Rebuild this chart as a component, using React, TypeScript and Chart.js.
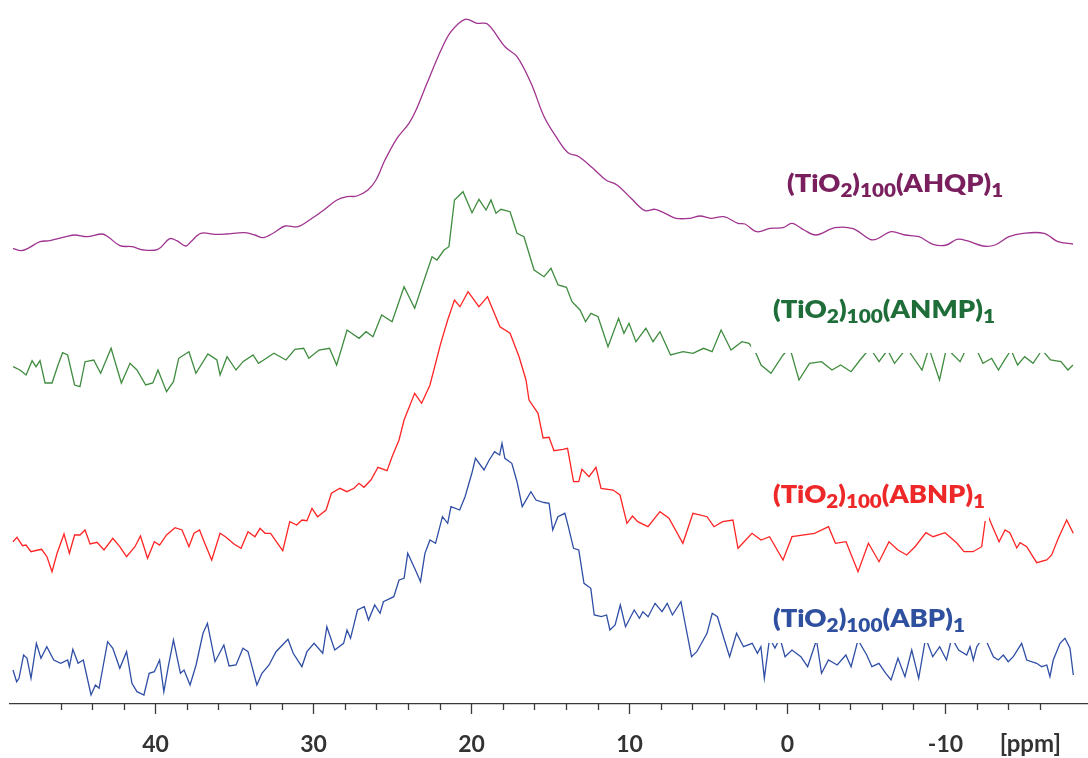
import React, { useEffect, useRef } from "react";
import { Chart, registerables } from "chart.js";

Chart.register(...registerables);

// ---------- data (chemical shift in ppm, stacked intensity in arbitrary units) ----------
const AHQP_PPM = [49.01, 48.50, 48.06, 47.30, 46.67, 45.66, 45.09, 44.33, 43.38, 43.00, 42.24, 41.48, 40.72, 39.84, 39.08, 38.64, 38.07, 37.75, 37.12, 36.23, 35.53, 34.33, 33.69, 33.19, 32.49, 31.79, 30.97, 30.08, 29.33, 28.50, 27.87, 27.24, 26.54, 26.03, 25.46, 24.70, 23.94, 23.49, 22.80, 21.91, 21.28, 20.39, 19.63, 18.97, 17.86, 17.10, 16.21, 15.39, 14.63, 13.87, 13.18, 12.29, 11.47, 10.77, 9.88, 9.00, 8.36, 7.73, 7.03, 6.15, 5.51, 4.82, 4.00, 3.11, 2.67, 1.91, 1.08, 0.26, -0.31, -1.07, -1.83, -3.03, -4.17, -5.25, -5.69, -6.58, -7.46, -8.35, -9.24, -10.09, -10.76, -11.39, -12.40, -13.16, -14.05, -14.94, -16.27, -17.15, -18.10];
const AHQP_INT = [455.7, 453.3, 455.7, 462.3, 463.3, 467.3, 469, 467.3, 470, 467.3, 458.3, 457.3, 454, 454.7, 465.3, 463.3, 458, 462.3, 470.7, 469.7, 470, 471.3, 469, 466.3, 471.3, 478, 477.3, 485.7, 494, 504, 507.3, 508, 514, 524, 544, 565.7, 580.7, 594, 620.7, 654, 672.3, 684.7, 680.7, 680, 657.3, 647.3, 620.7, 587.5, 567.3, 551.3, 547.3, 535.7, 524, 519, 505.7, 493.3, 494.7, 490.7, 485.7, 485.7, 488, 485.7, 487.3, 480.7, 480, 472.3, 475.7, 476.3, 480.7, 474, 469, 476.3, 475.3, 464.7, 465, 472.3, 469, 467.3, 459.7, 459, 464.7, 463.3, 458, 459, 467.3, 470.7, 470.7, 462.3, 460];

const ANMP_PPM = [49.01, 48.57, 48.18, 47.80, 47.55, 47.30, 46.98, 46.54, 46.16, 45.87, 45.55, 45.11, 44.77, 44.45, 43.90, 43.46, 42.80, 42.15, 41.60, 41.16, 40.61, 40.16, 39.83, 39.29, 38.85, 38.52, 37.87, 37.43, 36.67, 36.10, 35.90, 35.46, 34.89, 34.45, 33.81, 33.47, 33.14, 32.49, 31.73, 31.16, 30.61, 30.28, 29.64, 28.97, 28.52, 27.86, 27.10, 26.66, 26.22, 25.67, 25.01, 24.25, 23.58, 23.05, 22.48, 22.17, 21.72, 21.41, 21.06, 20.52, 19.95, 19.51, 19.06, 18.75, 18.43, 18.12, 17.54, 17.10, 16.66, 16.02, 15.39, 14.95, 14.50, 13.97, 13.62, 13.11, 12.76, 12.42, 11.97, 11.34, 10.67, 10.33, 10.01, 9.57, 8.94, 8.49, 8.05, 7.38, 6.59, 5.96, 5.29, 4.75, 4.18, 3.55, 2.86, 2.41, 1.97, 1.65, 1.02, 0.26, -0.18, -0.75, -1.42, -2.18, -2.84, -3.39, -4.05, -4.62, -5.25, -5.82, -6.36, -6.80, -7.57, -8.54, -8.98, -9.65, -10.09, -10.95, -11.30, -12.07, -12.40, -12.95, -13.38, -13.83, -14.18, -14.59, -15.04, -15.57, -16.14, -16.68, -17.34, -17.78, -18.10];
const ANMP_INT = [337.3, 334, 329, 343.3, 337.3, 343.3, 321, 321, 339, 351.3, 349, 319, 317.3, 342.3, 344, 330.7, 355.7, 321, 340.7, 334, 319, 321, 334, 312.3, 322.3, 345.7, 352.3, 330.7, 350, 344, 329, 347.3, 334, 342.3, 349, 340.7, 344, 350.7, 344, 354.7, 355.7, 345.7, 354, 355.7, 339, 374, 365.7, 372.3, 367.3, 389, 382.3, 417.3, 395.7, 420.7, 447.3, 444, 454, 457.3, 504, 512.3, 491.3, 504.7, 494, 504, 490.7, 494.7, 492.3, 470.7, 467.3, 434, 427.3, 435.7, 419, 416.7, 402.3, 394, 382.3, 390.7, 387.3, 357.3, 385.7, 370.7, 380.7, 362.3, 375.7, 362.3, 372.3, 349, 352.3, 350.7, 355.7, 352.3, 374, 354, 362.3, 360.7, 350.7, 339, 330.7, 349, 356, 324, 340.7, 342.3, 334, 339, 332.3, 344, 356, 342.3, 354, 340.7, 356, 334, 356, 324, 356, 342.3, 354, 352, 340.7, 345.7, 334, 345.7, 354, 339, 347.3, 340.7, 354, 344, 342.3, 334, 339];

const ABNP_PPM = [49.01, 48.76, 48.41, 48.19, 47.87, 47.43, 47.20, 46.86, 46.54, 46.22, 45.78, 45.44, 45.11, 44.77, 44.45, 44.13, 43.69, 43.25, 42.69, 42.25, 41.82, 41.29, 40.94, 40.49, 40.06, 39.73, 39.29, 38.75, 38.31, 37.87, 37.55, 37.20, 36.87, 36.43, 35.90, 35.56, 35.02, 34.57, 34.13, 33.69, 33.37, 33.05, 32.70, 32.26, 31.93, 31.49, 31.05, 30.71, 30.40, 30.08, 29.73, 29.19, 28.85, 28.31, 27.87, 27.42, 27.11, 26.79, 26.35, 25.90, 25.33, 25.01, 24.57, 24.25, 23.58, 23.14, 22.61, 21.93, 21.49, 21.06, 20.71, 20.20, 19.51, 18.97, 18.18, 17.54, 16.97, 16.53, 16.34, 15.77, 15.45, 15.07, 14.76, 14.19, 13.90, 13.52, 13.19, 12.99, 12.54, 12.10, 11.78, 11.02, 10.58, 10.14, 9.79, 9.46, 8.81, 8.05, 7.48, 6.60, 5.96, 5.07, 4.63, 4.08, 3.43, 3.11, 2.22, 1.65, 1.11, 0.26, -0.31, -1.74, -2.62, -3.06, -3.73, -4.49, -5.15, -5.82, -6.45, -7.02, -7.57, -8.10, -8.79, -9.24, -10.00, -10.76, -11.20, -11.77, -12.32, -12.62, -13.04, -13.42, -13.80, -14.11, -14.54, -14.75, -15.17, -15.80, -16.44, -16.75, -17.17, -17.70, -18.12];
const ABNP_INT = [162.3, 166.7, 158.3, 159, 152.3, 154, 154.7, 147.3, 132.3, 150.7, 170, 150.7, 169, 169, 174, 160, 161.7, 154, 165.7, 157.3, 147.3, 157.3, 168, 145.7, 162.3, 159, 169, 176.3, 174, 157.3, 170.7, 174, 160.7, 144, 170.7, 167.3, 160, 155.7, 172.3, 167.3, 175.7, 170.7, 170.7, 160.7, 153.3, 182.3, 179, 184, 183.3, 195.7, 187.3, 194, 210.7, 215.7, 212.3, 215.7, 220.7, 216.7, 224, 236.7, 233.3, 247.3, 264, 284, 310.7, 300.7, 319, 360.7, 384, 404, 397.3, 412.3, 397.3, 407.3, 377.3, 370.7, 347.3, 324, 304, 290.7, 266, 266.7, 253.3, 254.7, 255.7, 222.3, 222.3, 234.7, 227.3, 236.7, 215.7, 214, 209, 180.7, 188, 182.3, 177.3, 192.3, 185.7, 160.7, 190.7, 187.3, 177.3, 182.3, 184, 155.7, 170.7, 164, 167.3, 144, 167.3, 170.7, 177.3, 160.7, 162.3, 132.3, 160.7, 142.3, 162.3, 154, 149, 157.3, 171.3, 167.3, 171.3, 160.7, 152.3, 152.3, 157.3, 192, 176, 162.3, 174, 171, 156, 161.3, 157.3, 141.3, 144, 149, 165.7, 184, 170.7];

const ABP_PPM = [49.01, 48.78, 48.63, 48.34, 48.12, 47.87, 47.53, 47.24, 46.87, 46.43, 45.99, 45.55, 45.44, 45.22, 44.89, 44.56, 44.07, 43.79, 43.56, 43.02, 42.69, 42.25, 41.82, 41.48, 41.16, 40.72, 40.39, 40.06, 39.73, 39.46, 39.18, 38.85, 38.41, 38.18, 37.80, 37.42, 36.98, 36.70, 36.22, 35.66, 35.33, 34.89, 34.45, 34.13, 33.57, 33.25, 32.80, 32.36, 31.60, 31.27, 30.72, 30.40, 29.95, 29.40, 29.14, 28.64, 28.08, 27.86, 27.64, 27.20, 26.77, 26.50, 26.11, 25.77, 25.56, 24.90, 24.57, 24.25, 24.02, 23.58, 23.21, 22.93, 22.61, 22.26, 21.82, 21.49, 21.28, 20.73, 20.39, 19.96, 19.73, 19.19, 18.86, 18.52, 18.20, 18.05, 17.87, 17.43, 17.10, 16.77, 16.22, 15.90, 15.39, 15.07, 14.84, 14.51, 14.07, 13.85, 13.52, 13.19, 12.86, 12.43, 12.21, 11.76, 11.43, 11.22, 10.89, 10.56, 10.23, 9.68, 9.35, 9.13, 8.80, 8.36, 7.92, 7.59, 7.26, 6.72, 6.50, 6.05, 5.72, 5.07, 4.74, 4.41, 3.97, 3.64, 3.20, 2.76, 2.21, 1.88, 1.66, 1.44, 1.11, 0.77, 0.45, 0.13, -0.31, -0.87, -1.30, -1.86, -2.18, -2.62, -3.17, -3.72, -4.05, -4.49, -5.04, -5.37, -5.81, -6.25, -6.58, -7.02, -7.46, -7.89, -8.33, -8.77, -9.22, -9.66, -10.09, -10.42, -10.86, -11.37, -11.58, -11.79, -12.01, -12.47, -13.06, -13.37, -13.69, -14.00, -14.32, -14.85, -15.17, -15.80, -16.12, -16.44, -16.64, -16.85, -17.28, -17.59, -17.91, -18.12];
const ABP_INT = [34, 22.3, 25.7, 49, 45.7, 25.7, 60.7, 45.7, 57.3, 44, 40.7, 44, 37.3, 54.7, 40.7, 44, 9, 19, 15.7, 62.3, 55.7, 35.7, 52.3, 20.7, 12.3, 9, 30.7, 32.3, 44, 12.3, 37.3, 64, 30.7, 34, 19, 39, 70.7, 80.7, 42.3, 59, 38, 39, 55.7, 52.3, 19, 30.7, 39, 52.3, 64.7, 50.7, 37.3, 52.3, 60.7, 50.7, 77.3, 54, 60.7, 74, 65.7, 94, 97.3, 84, 99, 90.7, 102.3, 107.3, 124, 125.7, 150.7, 135.7, 122.3, 150.7, 164, 160.7, 187.3, 180.7, 197.3, 194, 207.3, 230.7, 245.7, 234, 244, 252.3, 249, 260.7, 245.7, 240.7, 222.3, 197.3, 212.3, 204, 201.5, 200.7, 174, 187.3, 190.7, 177.3, 155.7, 154, 120.7, 115.7, 89, 87.3, 89, 74, 79, 99, 77.3, 94, 85.7, 92.3, 87.3, 100.7, 92.3, 100.7, 89, 102.3, 84, 47.3, 52.3, 70.7, 90.7, 87.3, 64, 47.3, 70.7, 57.3, 60.7, 50.7, 57.3, 25.7, 66, 56, 66, 47.3, 54, 47.3, 37.3, 64, 30.7, 44, 39, 49, 37.3, 64, 49, 37.3, 40.7, 30.7, 24, 45.7, 27.3, 54, 25.7, 66, 47.3, 57.3, 44, 66, 54, 49, 57.3, 44, 57.3, 68, 47.3, 44, 49, 42.3, 47.3, 60.7, 44, 40.7, 37.3, 39, 27.3, 44, 60.7, 65.7, 55.7, 29];

const SERIES_NAMES = ["AHQP", "ANMP", "ABNP", "ABP"];
const LINE_COLORS = ["#a0338f", "#3f8c3f", "#ff2424", "#2f4ea5"];
const TEXT_COLORS = ["#7a1f5e", "#1f6e3a", "#ee2828", "#2f4f9f"];
const LINE_TENSION = [0.35, 0, 0, 0];

// axis
const X_MIN = -19.05;
const X_MAX = 49.2;
const MINOR_STEP = 2;
const MAJOR_STEP = 10;
const Y_MIN = 0;
const Y_MAX = 704;
const UNIT_LABEL = "[ppm]";
const UNIT_LABEL_PPM = -15.4;

// label anchors in data units (left ppm, right ppm, baseline intensity)
const LABEL_LEFT = [0.0, 0.89, 0.89, 0.89];
const LABEL_RIGHT = [-13.68, -13.16, -12.53, -11.26];
const LABEL_BASE = [512, 385.7, 200.7, 77.3];

// white label backgrounds (ppm left, ppm right, intensity top, intensity bottom)
const MASK_LEFT = [2.28, 1.12, 1.2];
const MASK_RIGHT = [-19.05, -12.78, -12.78];
const MASK_TOP = [414, 234, 104];
const MASK_BOTTOM = [351, 183, 61];

const FONT = "Lato, 'Open Sans', 'DejaVu Sans', sans-serif";

function drawRich(ctx: CanvasRenderingContext2D, name: string, x: number, baseline: number, targetW: number, size: number, color: string) {
  const parts = [
    { t: "(TiO", sub: false },
    { t: "2", sub: true },
    { t: ")", sub: false },
    { t: "100", sub: true },
    { t: "(" + name + ")", sub: false },
    { t: "1", sub: true },
  ];
  const main = `800 ${size}px ${FONT}`;
  const sub = `800 ${Math.round(size * 0.74)}px ${FONT}`;
  let w = 0;
  for (const p of parts) {
    ctx.font = p.sub ? sub : main;
    w += ctx.measureText(p.t).width;
  }
  const sx = targetW / w;
  ctx.save();
  ctx.translate(x, baseline);
  ctx.scale(sx, 1);
  ctx.fillStyle = color;
  ctx.textAlign = "left";
  ctx.textBaseline = "alphabetic";
  let cx = 0;
  for (const p of parts) {
    ctx.font = p.sub ? sub : main;
    ctx.fillText(p.t, cx, p.sub ? size * 0.2 : 0);
    cx += ctx.measureText(p.t).width;
  }
  ctx.restore();
}

const overlayPlugin = {
  id: "overlay",
  afterDatasetsDraw(chart: any) {
    const { ctx, scales } = chart;
    const xs = scales.x;
    const ys = scales.y;
    ctx.save();
    ctx.fillStyle = "#ffffff";
    for (let i = 0; i < MASK_LEFT.length; i++) {
      const l = xs.getPixelForValue(MASK_LEFT[i]);
      const r = xs.getPixelForValue(MASK_RIGHT[i]);
      const t = ys.getPixelForValue(MASK_TOP[i]);
      const b = ys.getPixelForValue(MASK_BOTTOM[i]);
      ctx.fillRect(l, t, r - l, b - t);
    }
    for (let i = 0; i < SERIES_NAMES.length; i++) {
      const l = xs.getPixelForValue(LABEL_LEFT[i]);
      const r = xs.getPixelForValue(LABEL_RIGHT[i]);
      const b = ys.getPixelForValue(LABEL_BASE[i]);
      drawRich(ctx, SERIES_NAMES[i], l, b, r - l, 25, TEXT_COLORS[i]);
    }
    ctx.restore();
  },
  afterDraw(chart: any) {
    const { ctx } = chart;
    const xs = chart.scales.x;
    const y0 = xs.top;
    ctx.save();
    ctx.strokeStyle = "#3a3a3a";
    ctx.lineWidth = 1.3;
    ctx.fillStyle = "#333333";
    ctx.font = `bold 23px ${FONT}`;
    ctx.textAlign = "center";
    ctx.textBaseline = "alphabetic";
    for (const t of xs.ticks) {
      const v = t.value;
      const isMajor = Math.abs(v / MAJOR_STEP - Math.round(v / MAJOR_STEP)) < 1e-6;
      const px = Math.round(xs.getPixelForValue(v)) + 0.5;
      ctx.beginPath();
      ctx.moveTo(px, y0);
      ctx.lineTo(px, y0 + (isMajor ? 10 : 6));
      ctx.stroke();
      if (isMajor) ctx.fillText(String(Math.round(v)), px, y0 + 48);
    }
    ctx.font = `bold 24px ${FONT}`;
    ctx.fillText(UNIT_LABEL, xs.getPixelForValue(UNIT_LABEL_PPM), y0 + 48);
    ctx.restore();
  },
};

function toPoints(xs: number[], ys: number[]) {
  const n = Math.min(xs.length, ys.length);
  const out: { x: number; y: number }[] = [];
  for (let i = 0; i < n; i++) out.push({ x: xs[i], y: ys[i] });
  return out;
}

export default function App() {
  const ref = useRef<HTMLCanvasElement>(null);
  useEffect(() => {
    if (!ref.current) return;
    const seriesData = [
      toPoints(AHQP_PPM, AHQP_INT),
      toPoints(ANMP_PPM, ANMP_INT),
      toPoints(ABNP_PPM, ABNP_INT),
      toPoints(ABP_PPM, ABP_INT),
    ];
    const chart = new Chart(ref.current, {
      type: "line",
      data: {
        datasets: seriesData.map((d, i) => ({
          label: SERIES_NAMES[i],
          data: d,
          borderColor: LINE_COLORS[i],
          borderWidth: 1.3,
          pointRadius: 0,
          tension: LINE_TENSION[i],
          fill: false,
        })),
      },
      options: {
        animation: false,
        responsive: false,
        devicePixelRatio: 1,
        layout: { padding: { left: 10, right: 0, top: 0, bottom: 0 } },
        plugins: { legend: { display: false }, tooltip: { enabled: false } },
        scales: {
          x: {
            type: "linear",
            reverse: true,
            min: X_MIN,
            max: X_MAX,
            ticks: { display: false, stepSize: MINOR_STEP },
            grid: { display: false, drawTicks: false },
            border: { display: true, color: "#3a3a3a", width: 1.3 },
            afterBuildTicks: (s: any) => {
              s.ticks = s.ticks.filter((t: any) => Math.abs(t.value / MINOR_STEP - Math.round(t.value / MINOR_STEP)) < 1e-6);
            },
            afterFit: (s: any) => {
              s.height = 54;
            },
          },
          y: { display: false, min: Y_MIN, max: Y_MAX },
        },
      },
      plugins: [overlayPlugin],
    } as any);
    return () => chart.destroy();
  }, []);
  return (
    <div style={{ position: "absolute", left: 0, top: 0, width: 1088, height: 758, background: "#ffffff" }}>
      <canvas ref={ref} width={1088} height={758} style={{ display: "block", width: 1088, height: 758 }} />
    </div>
  );
}
